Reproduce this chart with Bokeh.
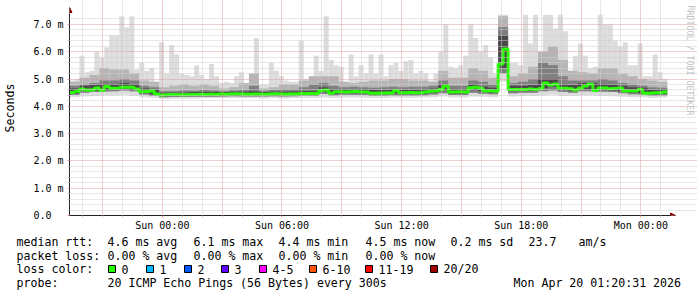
from datetime import datetime, timedelta
from bokeh.plotting import figure
from bokeh.models import (Range1d, FixedTicker, DatetimeTickFormatter, Grid, Label,
                          Arrow, NormalHead, DatetimeAxis, LinearAxis, ColumnDataSource)
from bokeh.layouts import column
from bokeh.embed import file_html
from bokeh.resources import INLINE
from bokeh.core.properties import value

# ---------------- data ----------------
START = datetime(2026, 4, 18, 19, 20, 31)
END = datetime(2026, 4, 20, 1, 20, 31)
FINE = timedelta(minutes=15)     # step of median / max arrays
COARSE = timedelta(minutes=30)   # step of smoke band arrays

median_ms = [
    4.51, 4.55, 4.63, 4.60, 4.60, 4.67, 4.59, 4.73, 4.66, 4.66,
    4.70, 4.70, 4.70, 4.63, 4.53, 4.54, 4.56, 4.45, 4.41, 4.42,
    4.43, 4.43, 4.42, 4.42, 4.43, 4.43, 4.44, 4.43, 4.44, 4.43,
    4.45, 4.44, 4.45, 4.46, 4.45, 4.44, 4.44, 4.45, 4.44, 4.44,
    4.45, 4.46, 4.45, 4.44, 4.45, 4.45, 4.47, 4.46, 4.47, 4.47,
    4.58, 4.60, 4.48, 4.53, 4.53, 4.52, 4.53, 4.54, 4.52, 4.52,
    4.48, 4.48, 4.48, 4.49, 4.49, 4.58, 4.50, 4.50, 4.51, 4.50,
    4.50, 4.52, 4.55, 4.56, 4.62, 4.74, 4.52, 4.52, 4.53, 4.52,
    4.68, 4.70, 4.66, 4.56, 4.57, 4.55, 5.55, 6.10, 4.62, 4.62,
    4.62, 4.62, 4.63, 4.62, 4.64, 4.85, 4.78, 4.82, 4.66, 4.66,
    4.64, 4.60, 4.66, 4.74, 4.82, 4.58, 4.67, 4.67, 4.64, 4.65,
    4.67, 4.56, 4.56, 4.56, 4.62, 4.48, 4.48, 4.50, 4.50, 4.52,
]

smoke_max = [
    4.95, 5.00, 5.85, 5.25, 5.30, 6.00, 5.80, 6.15, 6.60, 6.60,
    7.30, 6.90, 7.30, 5.35, 5.60, 5.30, 5.40, 4.80, 6.35, 5.20,
    6.25, 5.90, 5.20, 5.15, 5.10, 5.50, 5.15, 5.00, 5.55, 5.10,
    4.85, 4.90, 4.85, 5.10, 5.25, 4.75, 4.75, 6.50, 4.80, 4.80,
    5.60, 5.30, 5.10, 4.95, 4.90, 4.90, 6.40, 5.00, 5.10, 5.85,
    5.30, 7.30, 5.70, 5.50, 5.45, 4.90, 5.90, 5.10, 5.50, 5.20,
    5.90, 5.20, 5.90, 5.10, 5.50, 5.60, 5.30, 5.65, 5.70, 5.20,
    5.30, 5.20, 4.95, 5.20, 6.00, 7.00, 5.45, 5.40, 5.50, 5.85,
    7.00, 6.50, 6.00, 6.25, 5.80, 5.20, 7.35, 7.35, 5.60, 5.60,
    5.50, 7.35, 6.30, 7.35, 5.90, 7.35, 7.35, 6.85, 7.35, 6.75,
    5.30, 5.85, 6.30, 5.85, 5.40, 5.45, 7.35, 7.00, 7.00, 6.40,
    6.20, 6.35, 5.50, 5.50, 6.30, 5.10, 5.10, 5.90, 5.25, 5.00,
]

smoke_min = [
    4.33, 4.36, 4.38, 4.40, 4.40, 4.42, 4.38, 4.33, 4.30, 4.28,
    4.28, 4.29, 4.29, 4.30, 4.30, 4.30, 4.30, 4.30, 4.30, 4.29,
    4.30, 4.29, 4.30, 4.30, 4.30, 4.32, 4.30, 4.32, 4.32, 4.31,
    4.30, 4.30, 4.32, 4.31, 4.31, 4.32, 4.33, 4.36, 4.32, 4.32,
    4.36, 4.35, 4.33, 4.90, 4.36, 4.38, 4.38, 4.40, 4.42, 4.38,
    4.38, 4.40, 4.40, 4.38, 4.37, 4.35, 4.33, 4.33, 4.30, 4.32,
]
smoke_mid_low = [
    4.42, 4.50, 4.52, 4.54, 4.55, 4.58, 4.55, 4.43, 4.38, 4.33,
    4.34, 4.34, 4.35, 4.35, 4.35, 4.36, 4.37, 4.36, 4.36, 4.36,
    4.37, 4.36, 4.37, 4.38, 4.38, 4.45, 4.40, 4.42, 4.42, 4.41,
    4.38, 4.38, 4.40, 4.39, 4.39, 4.40, 4.43, 4.48, 4.41, 4.41,
    4.50, 4.46, 4.44, 5.20, 4.48, 4.50, 4.50, 4.55, 4.58, 4.52,
    4.50, 4.55, 4.55, 4.53, 4.52, 4.48, 4.44, 4.43, 4.39, 4.40,
]
smoke_in_low = [
    4.47, 4.56, 4.58, 4.60, 4.61, 4.64, 4.60, 4.48, 4.44, 4.37,
    4.38, 4.38, 4.38, 4.39, 4.39, 4.40, 4.40, 4.40, 4.40, 4.39,
    4.40, 4.40, 4.40, 4.42, 4.42, 4.52, 4.45, 4.48, 4.48, 4.47,
    4.43, 4.44, 4.47, 4.45, 4.45, 4.46, 4.50, 4.60, 4.46, 4.47,
    4.62, 4.55, 4.50, 5.40, 4.56, 4.56, 4.57, 4.66, 4.72, 4.60,
    4.56, 4.63, 4.62, 4.60, 4.58, 4.55, 4.50, 4.49, 4.44, 4.46,
]
smoke_in_high = [
    4.65, 4.75, 4.78, 4.82, 4.80, 4.85, 4.80, 4.65, 4.60, 4.50,
    4.50, 4.50, 4.52, 4.52, 4.52, 4.52, 4.53, 4.53, 4.55, 4.52,
    4.53, 4.53, 4.54, 4.55, 4.56, 4.70, 4.62, 4.62, 4.62, 4.62,
    4.60, 4.60, 4.62, 4.60, 4.60, 4.61, 4.64, 4.80, 4.62, 4.62,
    4.80, 4.72, 4.68, 6.60, 4.75, 4.75, 4.78, 5.00, 5.00, 4.80,
    4.78, 4.85, 4.85, 4.82, 4.80, 4.75, 4.70, 4.68, 4.60, 4.62,
]
smoke_mid_high = [
    4.75, 4.80, 4.85, 4.95, 4.95, 5.00, 4.95, 4.75, 4.70, 4.55,
    4.55, 4.58, 4.57, 4.60, 4.58, 4.55, 4.58, 4.60, 4.75, 4.57,
    4.60, 4.62, 4.62, 4.70, 4.80, 4.85, 4.75, 4.70, 4.72, 4.70,
    4.68, 4.70, 4.72, 4.70, 4.72, 4.72, 4.75, 4.95, 4.75, 4.75,
    4.95, 4.90, 4.80, 6.90, 4.85, 4.90, 5.00, 5.60, 5.50, 5.10,
    4.95, 4.95, 4.95, 5.00, 4.95, 4.85, 4.80, 4.75, 4.70, 4.68,
]
smoke_outer_high = [
    4.90, 5.05, 5.15, 5.40, 5.35, 5.35, 5.20, 4.95, 4.90, 4.70,
    4.75, 4.80, 4.75, 4.80, 4.75, 4.65, 4.70, 4.85, 5.20, 4.65,
    4.70, 4.80, 4.80, 4.95, 5.10, 5.10, 5.10, 4.90, 4.85, 4.90,
    4.95, 4.95, 5.00, 5.00, 4.95, 4.95, 4.90, 5.30, 5.05, 5.05,
    5.40, 5.30, 5.05, 7.30, 5.10, 5.20, 5.45, 6.00, 6.20, 5.70,
    5.30, 5.25, 5.20, 5.40, 5.40, 5.20, 5.10, 5.00, 4.95, 4.90,
]

y_tick_values = [0.0, 1.0, 2.0, 3.0, 4.0, 5.0, 6.0, 7.0]
y_tick_labels = ["0.0\u00a0\u00a0", "1.0 m", "2.0 m", "3.0 m", "4.0 m", "5.0 m", "6.0 m", "7.0 m"]

stats_rtt = ["median rtt:", "4.6 ms avg", "6.1 ms max", "4.4 ms min", "4.5 ms now",
             "0.2 ms sd", "23.7", "am/s"]
stats_loss = ["packet loss:", "0.00 % avg", "0.00 % max", "0.00 % min", "0.00 % now"]
loss_names = ["0", "1", "2", "3", "4-5", "6-10", "11-19", "20/20"]
loss_colors = ["#26ff00", "#00b8ff", "#0059ff", "#5e00ff", "#ff00ff", "#ff5500", "#ff0000", "#a10000"]
probe_text = ["probe:", "20 ICMP Echo Pings (56 Bytes) every 300s", "Mon Apr 20 01:20:31 2026"]

# ---------------- helpers ----------------
EPOCH = datetime(1970, 1, 1)


def ms(dt):
    return (dt - EPOCH).total_seconds() * 1000.0


MONO = "DejaVu Sans Mono"
W, H_MAIN, H_LEG = 697, 233, 64
FR_L, FR_B = 67, 18
PLOT_W, PLOT_H = 600, 202          # drawing area of the graph itself
Y_MAX = 7.4
PX_X = (ms(END) - ms(START)) / PLOT_W
PX_Y = Y_MAX / PLOT_H
FRAME_W = W - FR_L
FRAME_H = H_MAIN - FR_B
X_HI = ms(START) + FRAME_W * PX_X
Y_HI = FRAME_H * PX_Y

p = figure(width=W, height=H_MAIN, x_axis_type=None, y_axis_type=None,
           x_range=Range1d(ms(START), X_HI), y_range=Range1d(0, Y_HI),
           output_backend="svg", toolbar_location=None,
           min_border_left=FR_L, min_border_right=0,
           min_border_top=0, min_border_bottom=FR_B)
p.outline_line_color = None
p.background_fill_color = "white"
p.border_fill_color = "white"
p.frame_align = False

# smoke bands
fine_left = [START + i * FINE for i in range(len(smoke_max))]
fine_right = [t + FINE for t in fine_left]
coarse_left = [START + j * COARSE for j in range(len(smoke_min))]
coarse_right = [t + COARSE for t in coarse_left]

outer_src = ColumnDataSource(dict(
    left=fine_left, right=fine_right,
    bottom=[smoke_min[i // 2] for i in range(len(smoke_max))], top=smoke_max))
p.quad(left="left", right="right", bottom="bottom", top="top", source=outer_src,
       fill_color="#dcdcdc", line_color=None)

for lows, highs, col in [(smoke_mid_low, smoke_outer_high, "#b5b5b5"),
                         (smoke_mid_low, smoke_mid_high, "#7f7f7f"),
                         (smoke_in_low, smoke_in_high, "#4a4a4a")]:
    src = ColumnDataSource(dict(left=coarse_left, right=coarse_right, bottom=lows, top=highs))
    p.quad(left="left", right="right", bottom="bottom", top="top", source=src,
           fill_color=col, line_color=None)

# median line
med_x = fine_left + [fine_right[-1]]
med_y = median_ms + [median_ms[-1]]
p.step(x=med_x, y=med_y, mode="after", line_color="#26ff00", line_width=3)

# grids (drawn over the smoke, like rrdtool)
hour = timedelta(hours=1)
first_hour = datetime(2026, 4, 18, 20, 0, 0)
all_hours = []
t = first_hour
while t <= END:
    all_hours.append(t)
    t += hour
x_major = [ms(t) for t in all_hours if t.hour % 3 == 0]
x_minor = [ms(t) for t in all_hours if t.hour % 3 != 0]
x_labels = [ms(t) for t in all_hours if t.hour % 6 == 0]

y_minor = [k / 5 for k in range(1, 37) if k % 5 != 0]
y_major = [1.0, 2.0, 3.0, 4.0, 5.0, 6.0, 7.0]

GRID_MINOR = "#cfcfcf"
GRID_MAJOR = "#e59a9a"
xgrid = Grid(dimension=0, ticker=FixedTicker(ticks=x_major, minor_ticks=x_minor),
             grid_line_color=GRID_MAJOR, grid_line_dash="1 1", grid_line_width=1,
             minor_grid_line_color=GRID_MINOR, minor_grid_line_dash="1 1", level="glyph")
ygrid = Grid(dimension=1, ticker=FixedTicker(ticks=y_major, minor_ticks=y_minor),
             grid_line_color=GRID_MAJOR, grid_line_dash="1 1", grid_line_width=1,
             minor_grid_line_color=GRID_MINOR, minor_grid_line_dash="1 1", level="glyph")
p.add_layout(xgrid)
p.add_layout(ygrid)

# blank the frame outside the graph area (right strip and top strip)
p.quad(left=[ms(END), ms(START)], right=[X_HI, ms(END)], bottom=[0, Y_MAX], top=[Y_HI, Y_HI],
       fill_color="white", line_color=None)

AXIS = "#222222"
fmt = "%a %H:%M"
xaxis = DatetimeAxis(ticker=FixedTicker(ticks=x_labels,
                                        minor_ticks=[v for v in x_major + x_minor if v not in x_labels]),
                     formatter=DatetimeTickFormatter(microseconds=fmt, milliseconds=fmt, seconds=fmt,
                                                     minsec=fmt, minutes=fmt, hourmin=fmt, hours=fmt,
                                                     days=fmt, months=fmt, years=fmt),
                     bounds=(ms(START), ms(END) + 3 * PX_X),
                     axis_line_color=AXIS, major_tick_line_color=GRID_MAJOR,
                     major_tick_in=0, major_tick_out=2,
                     minor_tick_line_color=GRID_MINOR, minor_tick_in=0, minor_tick_out=2,
                     major_label_standoff=2,
                     major_label_text_font=MONO, major_label_text_font_size="10px",
                     major_label_text_color="#000000")
p.add_layout(xaxis, "below")

yaxis = LinearAxis(ticker=FixedTicker(ticks=y_tick_values, minor_ticks=y_minor),
                   major_label_overrides={v: s for v, s in zip(y_tick_values, y_tick_labels)},
                   bounds=(0, Y_MAX),
                   axis_line_color=AXIS, major_tick_line_color=GRID_MAJOR,
                   major_tick_in=0, major_tick_out=2,
                   minor_tick_line_color=GRID_MINOR, minor_tick_in=0, minor_tick_out=2,
                   major_label_standoff=4,
                   major_label_text_font=MONO, major_label_text_font_size="10px",
                   major_label_text_color="#000000",
                   axis_label="Seconds", axis_label_text_font=MONO,
                   axis_label_text_font_size="11.6px", axis_label_text_font_style="normal",
                   axis_label_text_color="#000000", axis_label_standoff=13)
p.add_layout(yaxis, "left")

# arrows at the axis ends
ARROW = "#9b0000"
p.add_layout(Arrow(x_start=ms(END), y_start=0, x_end=ms(END) + 8 * PX_X, y_end=0,
                   line_color=AXIS, line_width=1,
                   end=NormalHead(size=5, fill_color=ARROW, line_color=ARROW)))
p.add_layout(Arrow(x_start=ms(START), y_start=Y_MAX, x_end=ms(START), y_end=Y_MAX + 6 * PX_Y,
                   line_color=AXIS, line_width=1,
                   end=NormalHead(size=5, fill_color=ARROW, line_color=ARROW)))

# watermark at right
p.add_layout(Label(x=688 - FR_L, y=FRAME_H - 5, x_units="screen", y_units="screen",
                   text="RRDTOOL / TOBI OETIKER", angle=-1.5708, text_align="left",
                   text_baseline="middle", text_font=MONO, text_font_size="8.3px",
                   text_color="#c2c2c2"))

# ---------------- legend figure ----------------
lg = figure(width=W, height=H_LEG, x_range=Range1d(0, W), y_range=Range1d(H_LEG, 0),
            x_axis_location=None, y_axis_location=None,
            output_backend="svg", toolbar_location=None,
            min_border=0, min_border_left=0, min_border_right=0,
            min_border_top=0, min_border_bottom=0)
lg.outline_line_color = None
lg.grid.visible = False
lg.background_fill_color = "white"
lg.border_fill_color = "white"
lg.frame_align = False

row_y = [8, 22, 35.5, 49.5]
rtt_x = [16, 107, 193, 278, 365, 450, 528, 578]
loss_x = [16, 107, 193, 278, 365]
name_x = [121, 159, 197, 234, 272, 322, 378, 443]
probe_x = [16, 107, 513]

tx, ty, tt = [], [], []
for x, s in zip(rtt_x, stats_rtt):
    tx.append(x); ty.append(row_y[0]); tt.append(s)
for x, s in zip(loss_x, stats_loss):
    tx.append(x); ty.append(row_y[1]); tt.append(s)
tx.append(16); ty.append(row_y[2]); tt.append("loss color:")
for x, s in zip(name_x, loss_names):
    tx.append(x); ty.append(row_y[2]); tt.append(s)
for x, s in zip(probe_x, probe_text):
    tx.append(x); ty.append(row_y[3]); tt.append(s)

lg.text(x=tx, y=ty, text=tt, text_font=value(MONO), text_font_size=value("11.6px"),
        text_align="left", text_baseline="middle", text_color="#000000")

box_left = [x - 13 for x in name_x]
lg.quad(left=box_left, right=[x + 7 for x in box_left],
        top=[row_y[2] - 3.5] * len(box_left), bottom=[row_y[2] + 3.5] * len(box_left),
        fill_color=loss_colors, line_color="#000000", line_width=1)

layout = column(p, lg, spacing=0)
open("out.html", "w").write(file_html(layout, INLINE))
